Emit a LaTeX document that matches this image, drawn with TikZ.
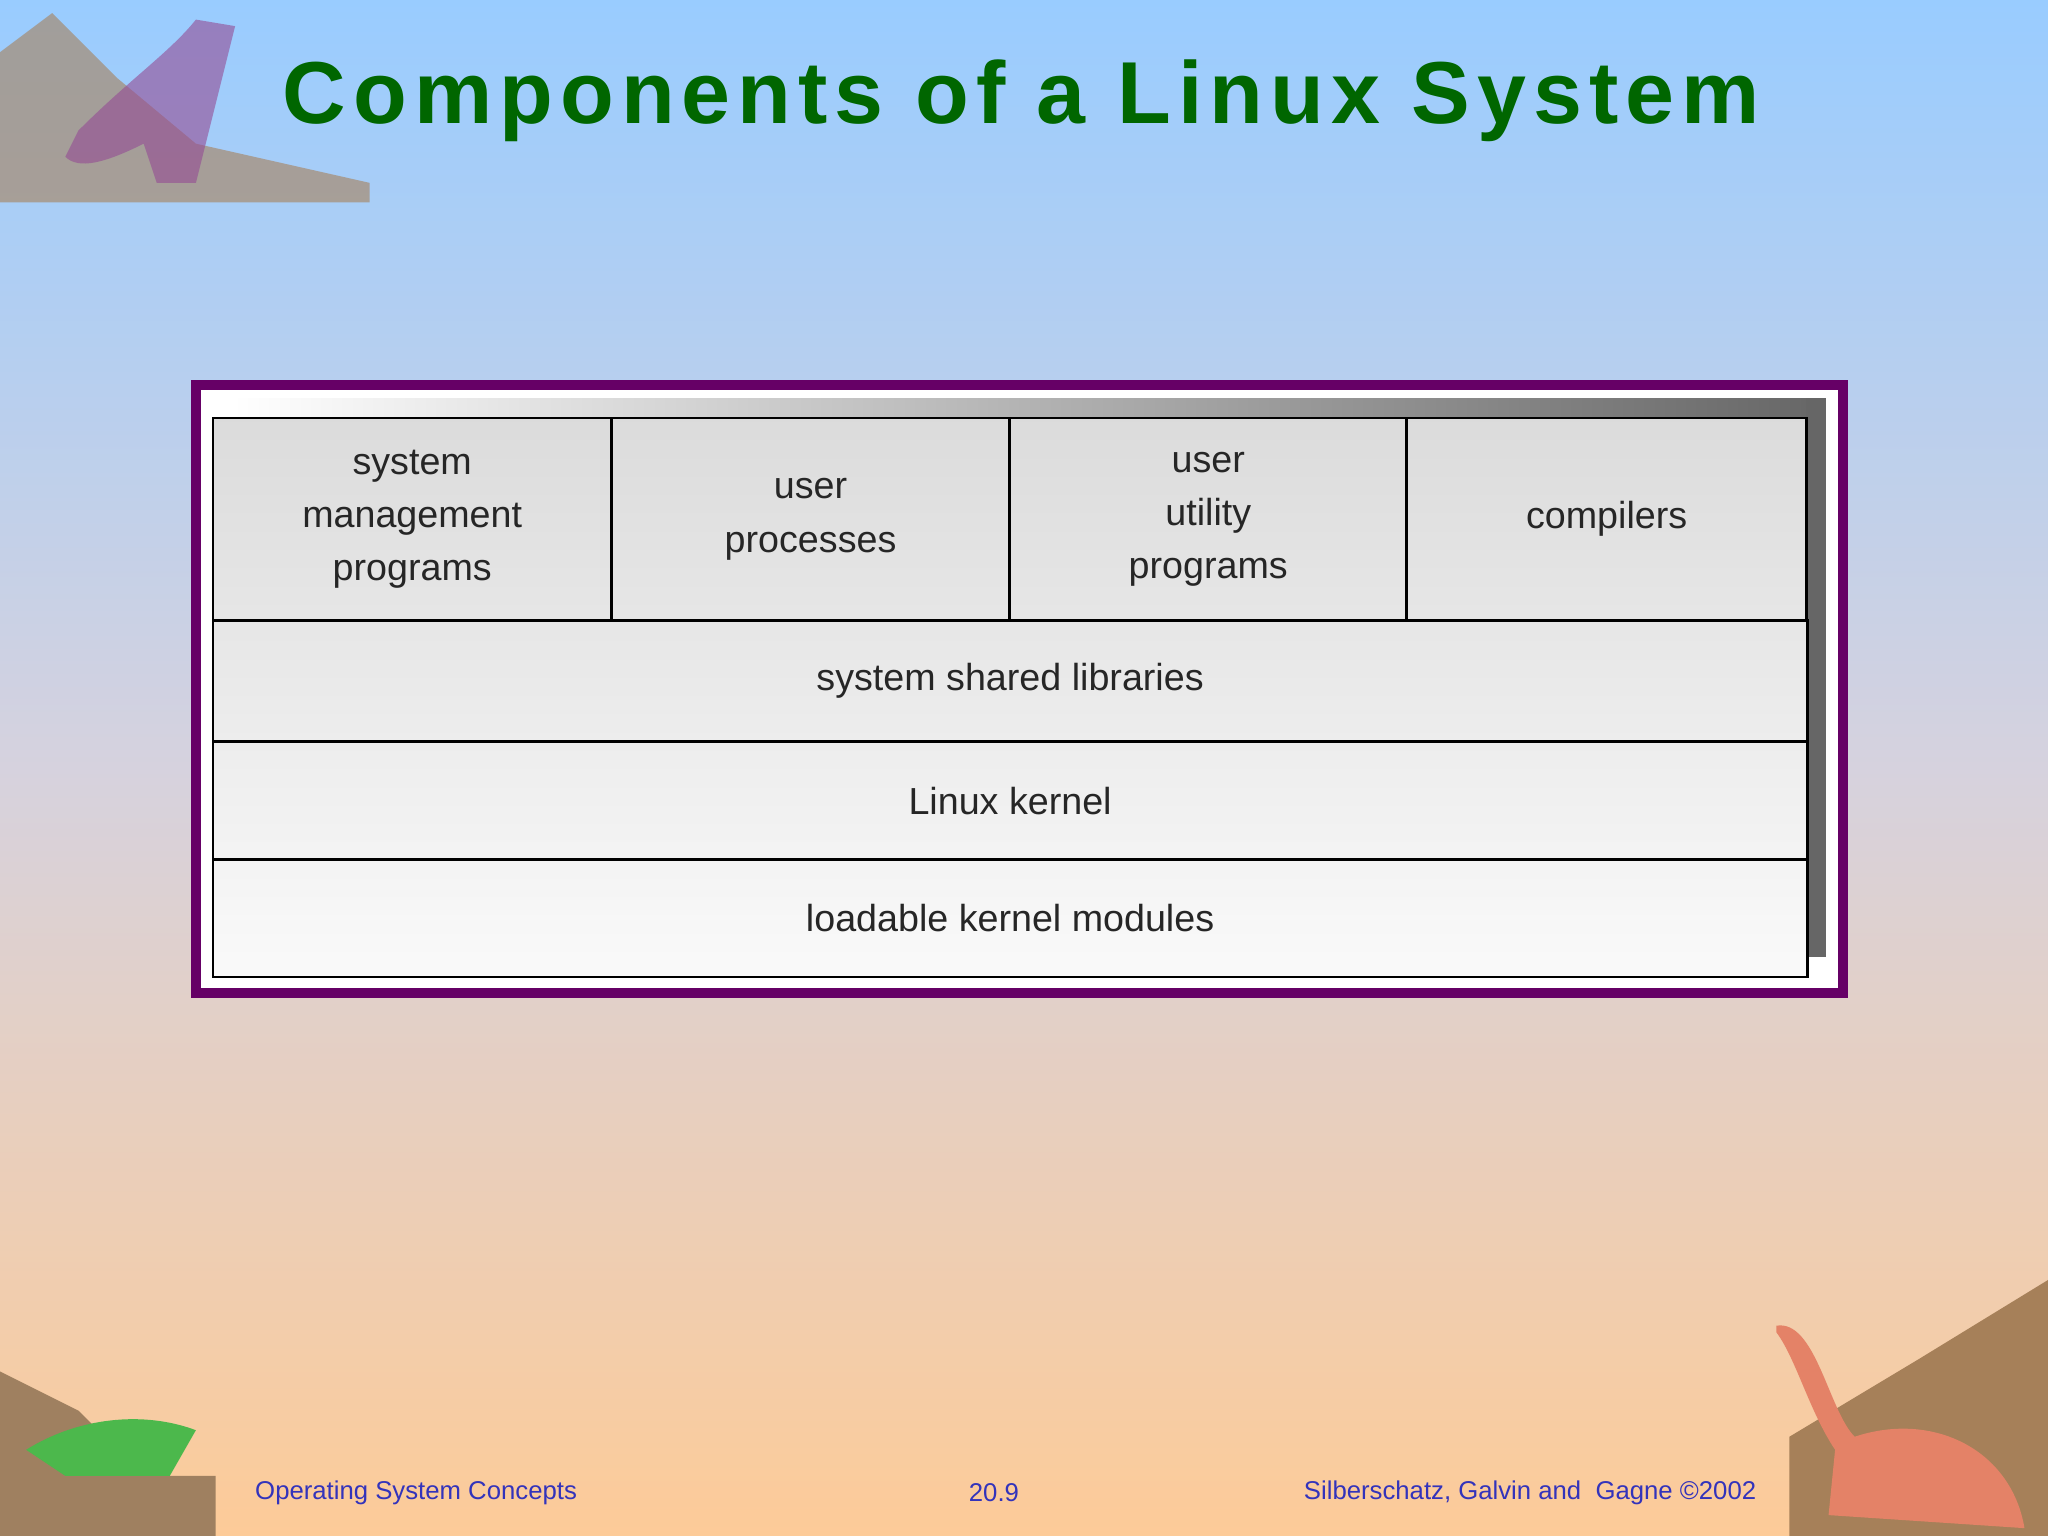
\documentclass[tikz,border=0pt]{standalone}
\usepackage{fontspec}
\setmainfont{Liberation Sans}
\newfontfamily\titlefont[LetterSpace=8]{Liberation Sans}
\definecolor{bgtop}{HTML}{99CCFF}
\definecolor{bgmid}{HTML}{D6D2DE}
\definecolor{bgbot}{HTML}{FDCB98}
\definecolor{ttl}{HTML}{006600}
\definecolor{frm}{HTML}{660066}
\definecolor{foot}{HTML}{3333BB}
\begin{document}
\begin{tikzpicture}[x=0.01cm,y=-0.01cm,
  lbl/.style={font=\fontsize{8.2pt}{11.6pt}\selectfont,align=center,text=black!85},
  cell/.style={draw=black,line width=0.6pt,inner sep=0pt,outer sep=0pt},
  ft/.style={font=\fontsize{5.6pt}{7pt}\selectfont,text=foot}]
\useasboundingbox (0,0) rectangle (1568,1176);
\shade[top color=bgtop,bottom color=bgbot,middle color=bgmid] (0,0) rectangle (1568,1176);
% corner scenery (simplified)
\fill[brown!60!gray,opacity=0.6] (0,155) -- (0,40) -- (40,10) -- (90,60) -- (150,110) -- (283,140) -- (283,155) -- cycle;
\fill[frm!70,opacity=0.6] (60,100) .. controls (100,60) and (130,40) .. (150,15) -- (180,20) -- (170,60) -- (150,140) -- (120,140) -- (110,110) .. controls (80,125) and (60,130) .. (50,120) -- cycle;
\fill[brown!50!gray] (0,1176) -- (0,1050) -- (60,1080) -- (110,1130) -- (165,1130) -- (165,1176) -- cycle;
\fill[green!60!black!70] (20,1110) .. controls (60,1085) and (110,1080) .. (150,1095) -- (130,1130) -- (50,1130) -- cycle;
\fill[brown!60!gray] (1568,980) -- (1568,1176) -- (1370,1176) -- (1370,1100) -- (1470,1040) -- cycle;
\fill[red!40!brown!70] (1360,1015) .. controls (1390,1010) and (1400,1080) .. (1420,1100) .. controls (1480,1080) and (1540,1110) .. (1550,1170) -- (1400,1160) -- (1405,1110) .. controls (1385,1080) and (1375,1040) .. (1360,1020) -- cycle;
% title
\node (title) at (782,77) {\resizebox{11.3cm}{!}{\color{ttl}\titlefont\bfseries Components of a Linux System}};
% frame
\draw[frm,line width=2.2pt,fill=white] (150,295) rectangle (1411,760);
\shade[left color=white,right color=black!60] (178,305) rectangle (1398,320);
\fill[black!60] (1383,305) rectangle (1398,733);
\shade[top color=black!14,bottom color=black!2] (163,320) rectangle (1383,748);
% cells
\node[cell,minimum width=3.05cm,minimum height=1.55cm,anchor=north west,lbl] (smp) at (163,320) {system\\management\\programs};
\node[cell,minimum width=3.05cm,minimum height=1.55cm,anchor=north west,lbl] (up) at (468,320) {user\\processes};
\node[cell,minimum width=3.04cm,minimum height=1.55cm,anchor=north west,lbl] (uup) at (773,320) {user\\utility\\programs};
\node[cell,minimum width=3.06cm,minimum height=1.55cm,anchor=north west,lbl] (comp) at (1077,320) {compilers};
\node[cell,minimum width=12.2cm,minimum height=0.93cm,anchor=north west,lbl] (ssl) at (163,475) {system shared libraries};
\node[cell,minimum width=12.2cm,minimum height=0.90cm,anchor=north west,lbl] (lk) at (163,568) {Linux kernel};
\node[cell,minimum width=12.2cm,minimum height=0.90cm,anchor=north west,lbl] (lkm) at (163,658) {loadable kernel modules};
% footer
\node[ft,anchor=west] (f1) at (183,1143) {Operating System Concepts};
\node[ft] (f2) at (761,1143) {20.9};
\node[ft,anchor=east] (f3) at (1357,1143) {Silberschatz, Galvin and\ \ Gagne \textcopyright2002};
\end{tikzpicture}
\end{document}
